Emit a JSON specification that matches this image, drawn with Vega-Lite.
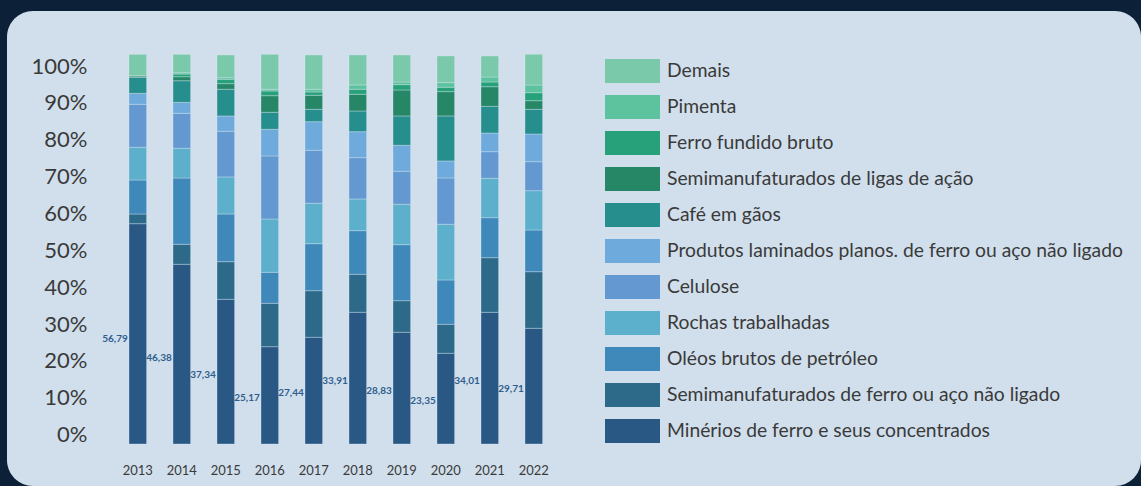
{
  "$schema": "https://vega.github.io/schema/vega-lite/v6.json",
  "width": 1134,
  "height": 475,
  "autosize": "none",
  "padding": {"left": 7, "top": 11, "right": 0, "bottom": 0},
  "background": "#0C2038",
  "config": {
    "font": "Lato",
    "view": {"fill": "#D1DFEC", "stroke": null, "cornerRadius": 26},
    "axis": {"grid": false},
    "locale": {"number": {"decimal": ",", "thousands": ".", "grouping": [3], "currency": ["R$", ""]}}
  },
  "datasets": {
    "bars": [
      {"year":"2013","cat":"Minérios de ferro e seus concentrados","rank":1,"value":59.75},
      {"year":"2013","cat":"Semimanufaturados de ferro ou aço não ligado","rank":2,"value":2.63},
      {"year":"2013","cat":"Oléos brutos de petróleo","rank":3,"value":9.22},
      {"year":"2013","cat":"Rochas trabalhadas","rank":4,"value":8.87},
      {"year":"2013","cat":"Celulose","rank":5,"value":11.66},
      {"year":"2013","cat":"Produtos laminados planos. de ferro ou aço não ligado","rank":6,"value":2.98},
      {"year":"2013","cat":"Café em gãos","rank":7,"value":4.34},
      {"year":"2013","cat":"Semimanufaturados de ligas de ação","rank":8,"value":0.43},
      {"year":"2013","cat":"Ferro fundido bruto","rank":9,"value":0},
      {"year":"2013","cat":"Pimenta","rank":10,"value":0},
      {"year":"2013","cat":"Demais","rank":11,"value":5.80},

      {"year":"2014","cat":"Minérios de ferro e seus concentrados","rank":1,"value":48.74},
      {"year":"2014","cat":"Semimanufaturados de ferro ou aço não ligado","rank":2,"value":5.42},
      {"year":"2014","cat":"Oléos brutos de petróleo","rank":3,"value":17.98},
      {"year":"2014","cat":"Rochas trabalhadas","rank":4,"value":8.06},
      {"year":"2014","cat":"Celulose","rank":5,"value":9.49},
      {"year":"2014","cat":"Produtos laminados planos. de ferro ou aço não ligado","rank":6,"value":2.98},
      {"year":"2014","cat":"Café em gãos","rank":7,"value":5.86},
      {"year":"2014","cat":"Semimanufaturados de ligas de ação","rank":8,"value":1.08},
      {"year":"2014","cat":"Ferro fundido bruto","rank":9,"value":0.73},
      {"year":"2014","cat":"Pimenta","rank":10,"value":0.35},
      {"year":"2014","cat":"Demais","rank":11,"value":4.99},

      {"year":"2015","cat":"Minérios de ferro e seus concentrados","rank":1,"value":39.25},
      {"year":"2015","cat":"Semimanufaturados de ferro ou aço não ligado","rank":2,"value":10.20},
      {"year":"2015","cat":"Oléos brutos de petróleo","rank":3,"value":12.94},
      {"year":"2015","cat":"Rochas trabalhadas","rank":4,"value":10.04},
      {"year":"2015","cat":"Celulose","rank":5,"value":12.39},
      {"year":"2015","cat":"Produtos laminados planos. de ferro ou aço não ligado","rank":6,"value":4.15},
      {"year":"2015","cat":"Café em gãos","rank":7,"value":7.24},
      {"year":"2015","cat":"Semimanufaturados de ligas de ação","rank":8,"value":1.52},
      {"year":"2015","cat":"Ferro fundido bruto","rank":9,"value":1.19},
      {"year":"2015","cat":"Pimenta","rank":10,"value":0.43},
      {"year":"2015","cat":"Demais","rank":11,"value":6.16},

      {"year":"2016","cat":"Minérios de ferro e seus concentrados","rank":1,"value":26.39},
      {"year":"2016","cat":"Semimanufaturados de ferro ou aço não ligado","rank":2,"value":11.77},
      {"year":"2016","cat":"Oléos brutos de petróleo","rank":3,"value":8.41},
      {"year":"2016","cat":"Rochas trabalhadas","rank":4,"value":14.46},
      {"year":"2016","cat":"Celulose","rank":5,"value":17.09},
      {"year":"2016","cat":"Produtos laminados planos. de ferro ou aço não ligado","rank":6,"value":7.24},
      {"year":"2016","cat":"Café em gãos","rank":7,"value":4.61},
      {"year":"2016","cat":"Semimanufaturados de ligas de ação","rank":8,"value":4.50},
      {"year":"2016","cat":"Ferro fundido bruto","rank":9,"value":1.27},
      {"year":"2016","cat":"Pimenta","rank":10,"value":0.46},
      {"year":"2016","cat":"Demais","rank":11,"value":9.49},

      {"year":"2017","cat":"Minérios de ferro e seus concentrados","rank":1,"value":28.94},
      {"year":"2017","cat":"Semimanufaturados de ferro ou aço não ligado","rank":2,"value":12.64},
      {"year":"2017","cat":"Oléos brutos de petróleo","rank":3,"value":12.75},
      {"year":"2017","cat":"Rochas trabalhadas","rank":4,"value":10.96},
      {"year":"2017","cat":"Celulose","rank":5,"value":14.37},
      {"year":"2017","cat":"Produtos laminados planos. de ferro ou aço não ligado","rank":6,"value":7.76},
      {"year":"2017","cat":"Café em gãos","rank":7,"value":3.36},
      {"year":"2017","cat":"Semimanufaturados de ligas de ação","rank":8,"value":3.80},
      {"year":"2017","cat":"Ferro fundido bruto","rank":9,"value":0.90},
      {"year":"2017","cat":"Pimenta","rank":10,"value":0.73},
      {"year":"2017","cat":"Demais","rank":11,"value":9.30},

      {"year":"2018","cat":"Minérios de ferro e seus concentrados","rank":1,"value":35.72},
      {"year":"2018","cat":"Semimanufaturados de ferro ou aço não ligado","rank":2,"value":10.31},
      {"year":"2018","cat":"Oléos brutos de petróleo","rank":3,"value":11.83},
      {"year":"2018","cat":"Rochas trabalhadas","rank":4,"value":8.60},
      {"year":"2018","cat":"Celulose","rank":5,"value":11.20},
      {"year":"2018","cat":"Produtos laminados planos. de ferro ou aço não ligado","rank":6,"value":7.05},
      {"year":"2018","cat":"Café em gãos","rank":7,"value":5.61},
      {"year":"2018","cat":"Semimanufaturados de ligas de ação","rank":8,"value":4.53},
      {"year":"2018","cat":"Ferro fundido bruto","rank":9,"value":1.36},
      {"year":"2018","cat":"Pimenta","rank":10,"value":1.17},
      {"year":"2018","cat":"Demais","rank":11,"value":8.14},

      {"year":"2019","cat":"Minérios de ferro e seus concentrados","rank":1,"value":30.30},
      {"year":"2019","cat":"Semimanufaturados de ferro ou aço não ligado","rank":2,"value":8.57},
      {"year":"2019","cat":"Oléos brutos de petróleo","rank":3,"value":15.19},
      {"year":"2019","cat":"Rochas trabalhadas","rank":4,"value":10.96},
      {"year":"2019","cat":"Celulose","rank":5,"value":8.95},
      {"year":"2019","cat":"Produtos laminados planos. de ferro ou aço não ligado","rank":6,"value":7.05},
      {"year":"2019","cat":"Café em gãos","rank":7,"value":7.95},
      {"year":"2019","cat":"Semimanufaturados de ligas de ação","rank":8,"value":7.05},
      {"year":"2019","cat":"Ferro fundido bruto","rank":9,"value":1.44},
      {"year":"2019","cat":"Pimenta","rank":10,"value":0.73},
      {"year":"2019","cat":"Demais","rank":11,"value":7.32},

      {"year":"2020","cat":"Minérios de ferro e seus concentrados","rank":1,"value":24.60},
      {"year":"2020","cat":"Semimanufaturados de ferro ou aço não ligado","rank":2,"value":7.87},
      {"year":"2020","cat":"Oléos brutos de petróleo","rank":3,"value":12.02},
      {"year":"2020","cat":"Rochas trabalhadas","rank":4,"value":15.11},
      {"year":"2020","cat":"Celulose","rank":5,"value":12.56},
      {"year":"2020","cat":"Produtos laminados planos. de ferro ou aço não ligado","rank":6,"value":4.61},
      {"year":"2020","cat":"Café em gãos","rank":7,"value":12.21},
      {"year":"2020","cat":"Semimanufaturados de ligas de ação","rank":8,"value":6.59},
      {"year":"2020","cat":"Ferro fundido bruto","rank":9,"value":1.19},
      {"year":"2020","cat":"Pimenta","rank":10,"value":1.25},
      {"year":"2020","cat":"Demais","rank":11,"value":7.24},

      {"year":"2021","cat":"Minérios de ferro e seus concentrados","rank":1,"value":35.72},
      {"year":"2021","cat":"Semimanufaturados de ferro ou aço não ligado","rank":2,"value":14.81},
      {"year":"2021","cat":"Oléos brutos de petróleo","rank":3,"value":10.85},
      {"year":"2021","cat":"Rochas trabalhadas","rank":4,"value":10.69},
      {"year":"2021","cat":"Celulose","rank":5,"value":7.21},
      {"year":"2021","cat":"Produtos laminados planos. de ferro ou aço não ligado","rank":6,"value":5.07},
      {"year":"2021","cat":"Café em gãos","rank":7,"value":7.24},
      {"year":"2021","cat":"Semimanufaturados de ligas de ação","rank":8,"value":5.32},
      {"year":"2021","cat":"Ferro fundido bruto","rank":9,"value":1.27},
      {"year":"2021","cat":"Pimenta","rank":10,"value":1.36},
      {"year":"2021","cat":"Demais","rank":11,"value":5.70},

      {"year":"2022","cat":"Minérios de ferro e seus concentrados","rank":1,"value":31.38},
      {"year":"2022","cat":"Semimanufaturados de ferro ou aço não ligado","rank":2,"value":15.35},
      {"year":"2022","cat":"Oléos brutos de petróleo","rank":3,"value":11.31},
      {"year":"2022","cat":"Rochas trabalhadas","rank":4,"value":10.66},
      {"year":"2022","cat":"Celulose","rank":5,"value":7.87},
      {"year":"2022","cat":"Produtos laminados planos. de ferro ou aço não ligado","rank":6,"value":7.51},
      {"year":"2022","cat":"Café em gãos","rank":7,"value":6.70},
      {"year":"2022","cat":"Semimanufaturados de ligas de ação","rank":8,"value":2.33},
      {"year":"2022","cat":"Ferro fundido bruto","rank":9,"value":2.17},
      {"year":"2022","cat":"Pimenta","rank":10,"value":2.09},
      {"year":"2022","cat":"Demais","rank":11,"value":8.33}
    ],
    "labels": [
      {"year":"2013","share":56.79},
      {"year":"2014","share":46.38},
      {"year":"2015","share":37.34},
      {"year":"2016","share":25.17},
      {"year":"2017","share":27.44},
      {"year":"2018","share":33.91},
      {"year":"2019","share":28.83},
      {"year":"2020","share":23.35},
      {"year":"2021","share":34.01},
      {"year":"2022","share":29.71}
    ]
  },
  "encoding": {
    "x": {
      "field": "year",
      "type": "nominal",
      "scale": {"range": [108.8, 548.8], "paddingInner": 0.6, "paddingOuter": 0.3},
      "axis": {
        "title": null,
        "labelAngle": 0,
        "domain": false,
        "ticks": false,
        "tickSize": 0,
        "labelPadding": 0,
        "offset": -16,
        "labelBaseline": "middle",
        "labelFont": "Lato",
        "labelFontSize": 13,
        "labelColor": "#3A3A3A"
      }
    }
  },
  "layer": [
    {
      "data": {"name": "bars"},
      "mark": {"type": "bar", "stroke": "#DCE7F1", "strokeWidth": 0.5, "strokeOpacity": 0.7},
      "encoding": {
        "y": {
          "field": "value",
          "type": "quantitative",
          "stack": "zero",
          "scale": {"domain": [0, 100], "range": [433, 64.3], "nice": false},
          "axis": {
            "title": null,
            "values": [0, 10, 20, 30, 40, 50, 60, 70, 80, 90, 100],
            "labelExpr": "datum.value + '%'",
            "domain": false,
            "ticks": false,
            "tickSize": 0,
            "labelPadding": 0,
            "offset": -80,
            "labelAlign": "right",
            "labelBaseline": "middle",
            "labelOffset": -9.3,
            "labelFont": "Lato",
            "labelFontSize": 22,
            "labelColor": "#3A3A3A"
          }
        },
        "order": {"field": "rank", "type": "quantitative", "sort": "ascending"},
        "color": {
          "field": "cat",
          "type": "nominal",
          "scale": {
            "domain": [
              "Demais",
              "Pimenta",
              "Ferro fundido bruto",
              "Semimanufaturados de ligas de ação",
              "Café em gãos",
              "Produtos laminados planos. de ferro ou aço não ligado",
              "Celulose",
              "Rochas trabalhadas",
              "Oléos brutos de petróleo",
              "Semimanufaturados de ferro ou aço não ligado",
              "Minérios de ferro e seus concentrados"
            ],
            "range": ["#7AC9AA", "#5DC39E", "#27A17A", "#258766", "#268E8C", "#6FAADC", "#6399D0", "#5CB0CC", "#3F88BA", "#2D6A8A", "#2A5885"]
          },
          "legend": {
            "title": null,
            "orient": "none",
            "legendX": 613.5,
            "legendY": 48,
            "padding": 0,
            "rowPadding": 12,
            "symbolType": "M-2.2917,-1H2.2917V1H-2.2917Z",
            "symbolSize": 576,
            "symbolStrokeWidth": 0,
            "symbolOpacity": 1,
            "labelOffset": 22.5,
            "labelFont": "Lato",
            "labelFontSize": 19.3,
            "labelColor": "#3A3A3A",
            "labelLimit": 700
          }
        }
      }
    },
    {
      "data": {"name": "labels"},
      "mark": {"type": "text", "align": "right", "baseline": "middle", "dx": -10, "font": "Lato", "fontSize": 10, "fontWeight": "bold", "color": "#2F5E8E"},
      "encoding": {
        "y": {
          "field": "share",
          "type": "quantitative",
          "scale": {"domain": [0, 200], "range": [433, 64.3], "nice": false},
          "axis": null
        },
        "text": {"field": "share", "type": "quantitative", "format": ".2f"}
      }
    }
  ],
  "resolve": {"scale": {"y": "independent"}}
}
